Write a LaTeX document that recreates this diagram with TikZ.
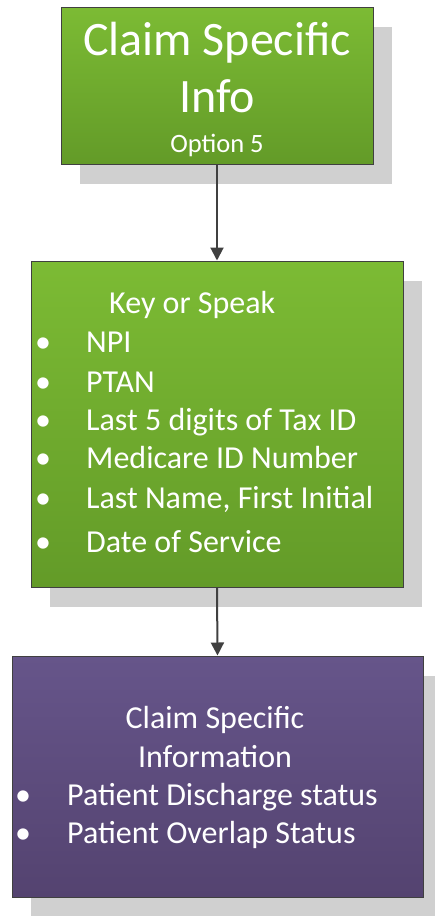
\documentclass[tikz,border=0pt]{standalone}
\usepackage{fontspec}
\setmainfont{Carlito}
\usetikzlibrary{shadows,arrows.meta}
\definecolor{gtop}{RGB}{124,187,52}
\definecolor{gbot}{RGB}{99,155,40}
\definecolor{ptop}{RGB}{102,85,138}
\definecolor{pbot}{RGB}{84,67,112}
\definecolor{edge}{RGB}{64,64,64}
\definecolor{shad}{RGB}{208,208,208}
\tikzset{
  box/.style={draw=edge, line width=1pt, rectangle, inner sep=0pt,
    general shadow={shadow xshift=19pt, shadow yshift=-20pt, fill=shad, draw=none}},
  greenbox/.style={box, top color=gtop, bottom color=gbot},
  purplebox/.style={box, top color=ptop, bottom color=pbot},
  txt/.style={text=white, inner sep=0pt, anchor=base},
  item/.style={txt, anchor=base west},
  bul/.style={txt, anchor=base},
  conn/.style={draw=edge, line width=2pt, -{Triangle[length=13pt,width=13pt]}}
}
\newcommand{\fsz}[1]{\fontsize{#1}{#1}\selectfont}
\begin{document}
\begin{tikzpicture}[x=1pt,y=-1pt]
\useasboundingbox (0,0) rectangle (434,916);
\node[greenbox, minimum width=312pt, minimum height=157pt] (b1) at (217,85.5) {};
\node[greenbox, minimum width=372pt, minimum height=326pt] (b2) at (217,424) {};
\node[purplebox, minimum width=411pt, minimum height=241pt] (b3) at (217.5,776.5) {};
% box 1 text
\node[txt] (t1a) at (217,55) {\fsz{48}Claim Specific};
\node[txt] (t1b) at (217,112) {\fsz{48}Info};
\node[txt] (t1c) at (217,152) {\fsz{26.5}Option 5};
% box 2 text
\node[item] (t2h) at (109,313) {\fsz{32}Key or Speak};
\foreach \y/\t [count=\i] in {352/NPI, 392/PTAN, 430/Last 5 digits of Tax ID, 468/Medicare ID Number, 508/{Last Name, First Initial}, 552/Date of Service}{
  \node[bul] (bb\i) at (43,\y) {\fsz{32}•};
  \node[item] (bi\i) at (86,\y) {\fsz{32}\t};
}
% box 3 text
\node[txt] (t3a) at (215,728) {\fsz{32}Claim Specific};
\node[txt] (t3b) at (215,767) {\fsz{32}Information};
\node[bul] (cb1) at (23,805) {\fsz{32}•};
\node[item] (ci1) at (67,805) {\fsz{32}Patient Discharge status};
\node[bul] (cb2) at (23,843) {\fsz{32}•};
\node[item] (ci2) at (67,843) {\fsz{32}Patient Overlap Status};
% connectors
\draw[conn] (b1.south) -- (b2.north);
\draw[conn] (b2.south) -- (b3.north);
\end{tikzpicture}
\end{document}
